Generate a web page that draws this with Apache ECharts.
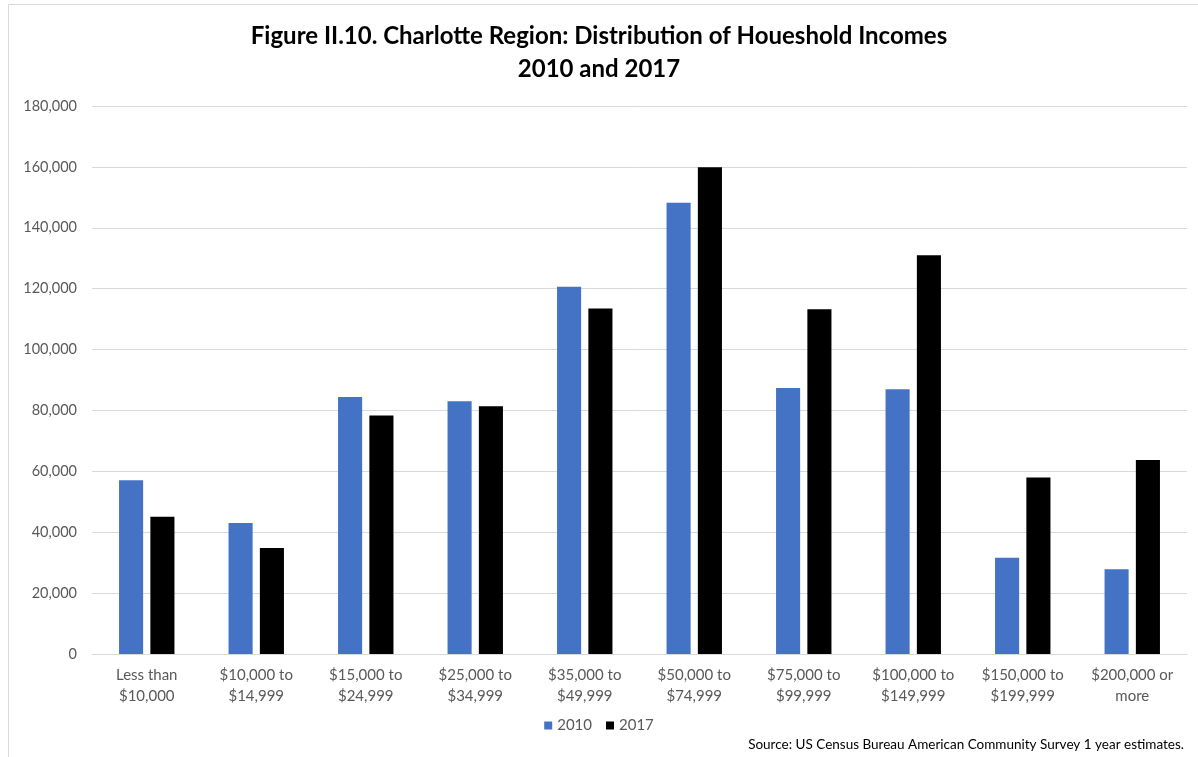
<!DOCTYPE html>
<html>
<head>
<meta charset="utf-8">
<script src="https://cdn.jsdelivr.net/npm/echarts@6/dist/echarts.min.js"></script>
<style>
html,body{margin:0;padding:0;background:#fff;}
#chart{width:1198px;height:757px;}
</style>
</head>
<body>
<div id="chart"></div>
<script>
const categories = ["Less than\n$10,000", "$10,000 to\n$14,999", "$15,000 to\n$24,999", "$25,000 to\n$34,999", "$35,000 to\n$49,999", "$50,000 to\n$74,999", "$75,000 to\n$99,999", "$100,000 to\n$149,999", "$150,000 to\n$199,999", "$200,000 or\nmore"];
const values2010 = [57100, 43000, 84400, 83000, 120600, 148200, 87400, 87000, 31600, 27800];
const values2017 = [45100, 34800, 78300, 81400, 113500, 159900, 113200, 131000, 58000, 63700];
const seriesNames = ["2010", "2017"];
const titleText = "Figure II.10. Charlotte Region: Distribution of Houeshold Incomes\n2010 and 2017";
const sourceText = "Source: US Census Bureau American Community Survey 1 year estimates.";

const font = "Lato, 'Open Sans', sans-serif";
const chart = echarts.init(document.getElementById('chart'), null, {renderer: 'canvas'});
chart.setOption({
  animation: false,
  backgroundColor: '#ffffff',
  title: {
    text: titleText,
    left: 'center',
    top: 15,
    textStyle: {fontFamily: font, fontSize: 24, fontWeight: 'bold', color: '#000', lineHeight: 33}
  },
  legend: {
    data: seriesNames,
    left: 'center',
    top: 713,
    itemWidth: 8,
    itemHeight: 8,
    itemGap: 14,
    icon: 'rect',
    textStyle: {fontFamily: font, fontSize: 15, color: '#595959'}
  },
  grid: {left: 92, right: 11, top: 106, bottom: 103, containLabel: false},
  xAxis: {
    type: 'category',
    data: categories,
    axisLine: {lineStyle: {color: '#d9d9d9', width: 1}},
    axisTick: {show: false},
    axisLabel: {fontFamily: font, fontSize: 15, color: '#595959', lineHeight: 21, margin: 11, interval: 0}
  },
  yAxis: {
    type: 'value',
    min: 0, max: 180000, interval: 20000,
    axisLine: {show: false},
    axisTick: {show: false},
    splitLine: {lineStyle: {color: '#d9d9d9', width: 1}},
    axisLabel: {
      fontFamily: font, fontSize: 14.5, color: '#595959', margin: 15,
      formatter: v => v.toLocaleString('en-US')
    }
  },
  series: [
    {name: seriesNames[0], type: 'bar', data: values2010, barWidth: '22%', barGap: '30%',
     itemStyle: {color: '#4472c4'}},
    {name: seriesNames[1], type: 'bar', data: values2017, barWidth: '22%', barGap: '30%',
     itemStyle: {color: '#000000'}}
  ],
  graphic: [
    {type: 'rect', shape: {x: 8.5, y: 4.5, width: 1200, height: 800}, style: {fill: null, stroke: '#d9d9d9', lineWidth: 1}, silent: true},
    {type: 'text', right: 14, top: 738, style: {text: sourceText, fontFamily: font, fontSize: 13.5, fill: '#000'}}
  ]
});
</script>
</body>
</html>
